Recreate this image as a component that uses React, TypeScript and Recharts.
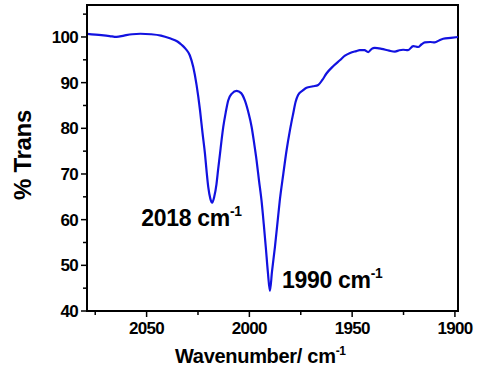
import React from 'react';
import { LineChart, Line, XAxis, YAxis, ReferenceArea, ReferenceDot, Label } from 'recharts';

// IR spectrum (wavenumber in cm-1, % transmittance)
const wavenumbers = [
  2079, 2072, 2068, 2064.6, 2061, 2057, 2053, 2048, 2043, 2038.7, 2035, 2033, 2031, 2029,
  2027.3, 2025.7, 2024, 2022.8, 2021.6, 2020.8, 2020, 2019, 2018.1, 2017.1, 2016, 2015.2,
  2014.3, 2013.5, 2012.7, 2011.5, 2010.3, 2008.5, 2006.2, 2004, 2002.2, 2000.5, 1998.9,
  1997.7, 1996.5, 1995.3, 1994.1, 1993, 1992, 1991, 1990, 1989, 1987.6, 1986.4,
  1985.2, 1983.5, 1981.9, 1980.3, 1978.7, 1977.5, 1976.3, 1974, 1972.2, 1969, 1966.5,
  1964.5, 1962.5, 1959, 1956, 1953.5, 1951, 1948, 1946.3, 1944, 1942.2, 1940.5, 1939,
  1935.7, 1932, 1929.2, 1927, 1925.2, 1922.8, 1920.3, 1917.9, 1916.2, 1914.6, 1912,
  1909.8, 1907.5, 1905.7, 1902, 1898.5,
];
const transmittance = [
  100.7, 100.4, 100.2, 100.0, 100.3, 100.6, 100.7, 100.6, 100.3, 99.7, 99.0, 98.3, 97.4, 96.0,
  93.4, 89.5, 83.9, 79.0, 74.4, 70.5, 67.1, 64.6, 63.7, 65.0, 67.8, 71.0,
  74.4, 77.5, 80.3, 83.5, 86.1, 87.6, 88.2, 87.7, 86.1, 83.5, 80.3,
  76.8, 73.0, 68.5, 64.2, 59.0, 53.9, 48.5, 44.4, 48.6, 53.9, 59.0,
  64.2, 70.0, 75.2, 79.5, 83.2, 85.8, 87.3, 88.3, 88.9, 89.2, 89.5,
  90.6, 92.0, 93.7, 94.9, 95.9, 96.5, 96.9, 97.1, 97.1, 96.7, 97.4, 97.6,
  97.4, 97.0, 96.8, 97.1, 97.2, 97.1, 98.0, 97.8, 98.4, 98.8, 98.9,
  98.8, 99.3, 99.6, 99.8, 100.0,
];

const xTicks = [2075, 2050, 2025, 2000, 1975, 1950, 1925, 1900];
const xMajor = [2050, 2000, 1950, 1900];
const yTicks = [40, 45, 50, 55, 60, 65, 70, 75, 80, 85, 90, 95, 100, 105];
const yMajor = [40, 50, 60, 70, 80, 90, 100];

const peaks = [
  { x: 2018.1, y: 63.7, text: '2018 cm', dx: -71, dy: 23 },
  { x: 1990, y: 44.4, text: '1990 cm', dx: 12, dy: -3 },
];

const X_DOMAIN: [number, number] = [1898.5, 2079];
const Y_DOMAIN: [number, number] = [40, 107];

const FONT = '"Liberation Sans", Arial, sans-serif';

const data = wavenumbers.map((w, i) => ({ w, t: transmittance[i] }));

const XTick = (props: any) => {
  const { x, y, payload } = props;
  const major = xMajor.includes(payload.value);
  return (
    <g>
      <line x1={x} y1={y} x2={x} y2={y + (major ? 6 : 4)} stroke="#000" strokeWidth={1.5} />
      {major && (
        <text x={x} y={y + 23} textAnchor="middle" fontFamily={FONT} fontWeight="bold" fontSize={17} letterSpacing={-0.7} fill="#000">
          {payload.value}
        </text>
      )}
    </g>
  );
};

const YTick = (props: any) => {
  const { x, y, payload } = props;
  const major = yMajor.includes(payload.value);
  return (
    <g>
      <line x1={x} y1={y} x2={x - (major ? 6 : 4)} y2={y} stroke="#000" strokeWidth={1.5} />
      {major && (
        <text x={x - 9} y={y + 6} textAnchor="end" fontFamily={FONT} fontWeight="bold" fontSize={17} letterSpacing={-0.7} fill="#000">
          {payload.value}
        </text>
      )}
    </g>
  );
};

const SupText = ({ x, y, text, size, anchor = 'start', transform }: any) => (
  <text x={x} y={y} textAnchor={anchor} transform={transform} fontFamily={FONT} fontWeight="bold" fontSize={size} letterSpacing={-0.3} fill="#000">
    {text}
    <tspan fontSize={size * 0.6} dy={-size * 0.42}>-1</tspan>
  </text>
);

export default function App() {
  return (
    <div style={{ position: 'absolute', left: 0, top: 0, width: 480, height: 371, background: '#fff' }}>
      <LineChart width={480} height={371} data={data} margin={{ top: 5, right: 22, bottom: 30, left: 27 }}>
        <XAxis
          dataKey="w"
          type="number"
          domain={X_DOMAIN}
          reversed
          allowDataOverflow
          ticks={xTicks}
          interval={0}
          tick={<XTick />}
          tickLine={false}
          tickSize={0}
          tickMargin={0}
          height={30}
          stroke="#000"
          strokeWidth={2}
        >
          <Label
            content={(p: any) => {
              const vb = p.viewBox || { x: 87, y: 311 };
              return <SupText x={vb.x + 88} y={vb.y + 52} text="Wavenumber/ cm" size={20} />;
            }}
          />
        </XAxis>
        <YAxis
          type="number"
          domain={Y_DOMAIN}
          allowDataOverflow
          ticks={yTicks}
          interval={0}
          tick={<YTick />}
          tickLine={false}
          tickSize={0}
          tickMargin={0}
          width={60}
          stroke="#000"
          strokeWidth={2}
        >
          <Label
            content={() => (
              <text x={31} y={155} transform="rotate(-90 31 155)" textAnchor="middle" fontFamily={FONT} fontWeight="bold" fontSize={24} letterSpacing={-0.3} fill="#000">
                % Trans
              </text>
            )}
          />
        </YAxis>
        <ReferenceArea x1={X_DOMAIN[1]} x2={X_DOMAIN[0]} y1={Y_DOMAIN[0]} y2={Y_DOMAIN[1]} fill="none" stroke="#000" strokeWidth={2} fillOpacity={0} />
        <Line type="monotone" dataKey="t" stroke="#1212e0" strokeWidth={2.2} dot={false} isAnimationActive={false} />
        {peaks.map((pk) => (
          <ReferenceDot key={pk.text} x={pk.x} y={pk.y} r={0} fill="none" stroke="none">
            <Label
              content={(p: any) => {
                const vb = p.viewBox || { x: 0, y: 0 };
                return <SupText x={vb.x + pk.dx} y={vb.y + pk.dy} text={pk.text} size={23} />;
              }}
            />
          </ReferenceDot>
        ))}
      </LineChart>
    </div>
  );
}
